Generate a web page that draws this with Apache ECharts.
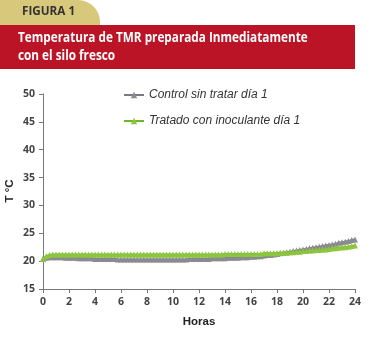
<!DOCTYPE html>
<html><head><meta charset="utf-8">
<script src="https://cdn.jsdelivr.net/npm/echarts@6/dist/echarts.min.js"></script>
<style>html,body{margin:0;padding:0;background:#fff}#c{width:371px;height:338px}</style>
</head><body><div id="c"></div>
<script>
var hours = [0,0.25,0.5,0.75,1,1.25,1.5,1.75,2,2.25,2.5,2.75,3,3.25,3.5,3.75,4,4.25,4.5,4.75,5,5.25,5.5,5.75,6,6.25,6.5,6.75,7,7.25,7.5,7.75,8,8.25,8.5,8.75,9,9.25,9.5,9.75,10,10.25,10.5,10.75,11,11.25,11.5,11.75,12,12.25,12.5,12.75,13,13.25,13.5,13.75,14,14.25,14.5,14.75,15,15.25,15.5,15.75,16,16.25,16.5,16.75,17,17.25,17.5,17.75,18,18.25,18.5,18.75,19,19.25,19.5,19.75,20,20.25,20.5,20.75,21,21.25,21.5,21.75,22,22.25,22.5,22.75,23,23.25,23.5,23.75,24];
var control = [20.4,20.6,20.7,20.7,20.7,20.7,20.7,20.6,20.6,20.6,20.6,20.5,20.5,20.5,20.5,20.5,20.4,20.4,20.4,20.4,20.4,20.4,20.4,20.3,20.3,20.3,20.3,20.3,20.3,20.3,20.3,20.3,20.3,20.3,20.3,20.3,20.3,20.3,20.3,20.3,20.3,20.3,20.3,20.3,20.3,20.4,20.4,20.4,20.4,20.4,20.4,20.4,20.5,20.5,20.5,20.5,20.5,20.6,20.6,20.6,20.6,20.7,20.7,20.7,20.8,20.8,20.9,20.9,21.0,21.1,21.1,21.2,21.3,21.4,21.5,21.6,21.7,21.8,21.9,22.0,22.1,22.2,22.3,22.4,22.5,22.6,22.7,22.8,22.9,23.0,23.1,23.3,23.4,23.5,23.6,23.8,23.9,24.0,24.2];
var treated = [20.4,20.9,21.1,21.2,21.2,21.2,21.2,21.2,21.2,21.2,21.2,21.2,21.2,21.2,21.2,21.2,21.2,21.2,21.2,21.2,21.2,21.2,21.2,21.2,21.2,21.2,21.2,21.2,21.2,21.2,21.2,21.2,21.2,21.2,21.2,21.2,21.2,21.2,21.2,21.2,21.2,21.2,21.2,21.2,21.2,21.2,21.2,21.2,21.2,21.2,21.2,21.2,21.2,21.2,21.2,21.2,21.3,21.3,21.3,21.3,21.3,21.3,21.3,21.3,21.3,21.3,21.3,21.3,21.4,21.4,21.4,21.4,21.4,21.5,21.5,21.5,21.6,21.6,21.7,21.7,21.8,21.8,21.9,21.9,22.0,22.0,22.1,22.1,22.2,22.3,22.3,22.4,22.5,22.5,22.6,22.7,22.8];
var seriesNames = ["Control sin tratar día 1", "Tratado con inoculante día 1"];
var yTicks = [15,20,25,30,35,40,45,50];
var xTicks = [0,2,4,6,8,10,12,14,16,18,20,22,24];
var yName = 'T °C';
var xName = 'Horas';

function pairs(xs, ys){ return xs.map(function(x,i){ return [x, ys[i]]; }); }

var chart = echarts.init(document.getElementById('c'), null, {renderer:'canvas'});
chart.setOption({
  animation:false,
  backgroundColor:'#fff',
  graphic:[
    {type:'rect', shape:{x:0,y:0,width:100,height:30,r:[0,22,0,0]}, style:{fill:'#d8c87c'}},
    {type:'text', x:22, y:5, scaleX:0.9, style:{text:'FIGURA 1', fill:'#333', font:'bold 13px "Open Sans"'}},
    {type:'rect', shape:{x:0,y:25,width:355,height:44}, style:{fill:'#bb1426'}},
    {type:'text', x:18, y:29, scaleX:0.84, style:{text:'Temperatura de TMR preparada Inmediatamente\ncon el silo fresco', fill:'#fff', font:'bold 14px "Open Sans"', lineHeight:18}},
    {type:'text', x:10, y:191, rotation:Math.PI/2, style:{text:yName, fill:'#222', font:'bold 11.5px "Liberation Sans"', align:'center', verticalAlign:'middle'}}
  ],
  legend:{
    orient:'vertical', left:118, top:84, itemGap:14, itemWidth:20, itemHeight:8,
    textStyle:{fontStyle:'italic', fontSize:12, color:'#333', fontFamily:'Liberation Sans'},
    data:seriesNames
  },
  grid:{left:43, right:16, top:94, bottom:49, containLabel:false, outerBoundsMode:'none'},
  xAxis:{
    type:'value', min:0, max:24, interval:2,
    name:xName, nameLocation:'middle', nameGap:27,
    nameTextStyle:{fontWeight:'bold', fontSize:11.5, color:'#222', fontFamily:'Liberation Sans'},
    axisLine:{lineStyle:{color:'#777'}}, axisTick:{show:true, length:4, lineStyle:{color:'#777'}},
    axisLabel:{fontWeight:'bold', fontSize:10.5, color:'#444', fontFamily:'Open Sans', margin:8,
      formatter:function(v){ return xTicks.indexOf(v)>=0 ? String(v) : ''; }},
    splitLine:{show:false}
  },
  yAxis:{
    type:'value', min:15, max:50, interval:5,
    axisLine:{show:true, lineStyle:{color:'#777'}}, axisTick:{show:true, length:4, lineStyle:{color:'#777'}},
    axisLabel:{fontWeight:'bold', fontSize:10.5, color:'#444', fontFamily:'Open Sans', margin:8,
      formatter:function(v){ return yTicks.indexOf(v)>=0 ? String(v) : ''; }},
    splitLine:{show:false}
  },
  series:[
    {name:seriesNames[0], type:'line', data:pairs(hours, control), symbol:'triangle', symbolSize:6,
     itemStyle:{color:'#8a8a92'}, lineStyle:{color:'#7a7a82', width:2}},
    {name:seriesNames[1], type:'line', data:pairs(hours, treated), symbol:'triangle', symbolSize:6,
     itemStyle:{color:'#8cc63e'}, lineStyle:{color:'#6fb52c', width:2}}
  ]
});
</script></body></html>
